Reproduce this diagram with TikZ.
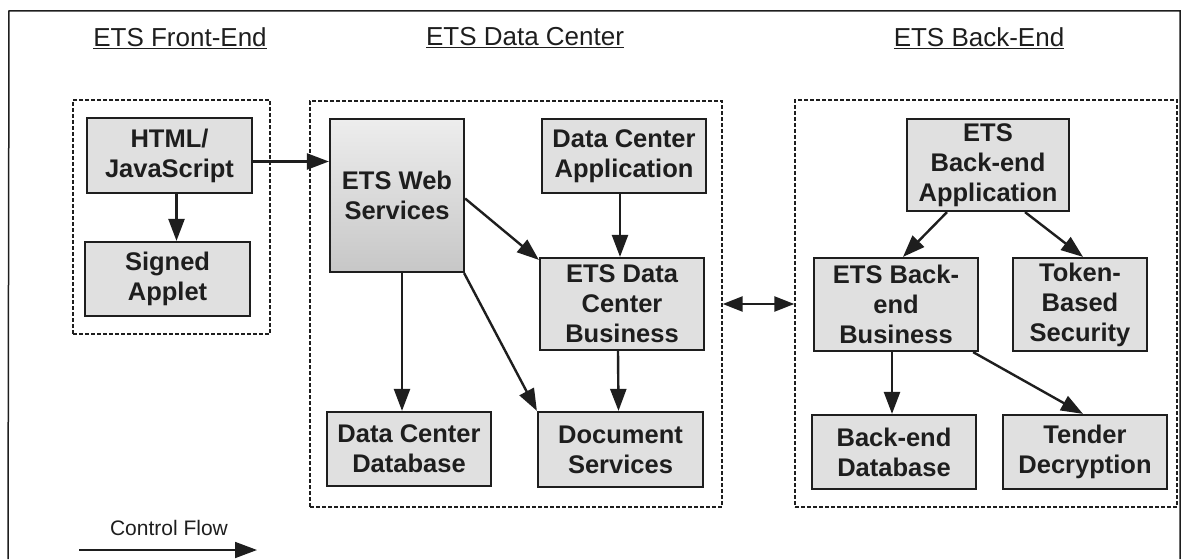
\documentclass[tikz,border=0pt]{standalone}
\usepackage{fontspec}
\setmainfont{Liberation Sans}
\usetikzlibrary{arrows.meta,calc}
\definecolor{ink}{HTML}{1E1E1E}
\tikzset{
  box/.style={draw=ink, line width=2.2pt, fill=black!12, inner sep=0pt, align=center,
    font=\fontsize{25.5}{30}\selectfont\bfseries, text=ink},
  group/.style={draw=ink, line width=1.4pt, dash pattern=on 4pt off 2pt, inner sep=0pt},
  arr/.style={draw=ink, line width=2.4pt, -{Triangle[length=22pt,width=16pt]}},
  biarr/.style={draw=ink, line width=2.4pt, {Triangle[length=20pt,width=15pt]}-{Triangle[length=20pt,width=15pt]}},
  title/.style={font=\fontsize{26}{30}\selectfont, text=ink, inner sep=0pt},
  legend/.style={font=\fontsize{21}{26}\selectfont, text=ink, inner sep=0pt},
  frame/.style={draw=ink, line width=1.5pt},
}
\begin{document}
\begin{tikzpicture}[x=1pt,y=-1pt]
\useasboundingbox (0,0) rectangle (1182,559);
% outer frame
\coordinate (f1) at (8,559);
\coordinate (f2) at (9,11);
\coordinate (f3) at (1180,11);
\coordinate (f4) at (1180,559);
\draw[frame] (f1) -- (f2) -- (f3) -- (f4);
% titles
\node[title] (t1) at (180,38) {\underline{ETS Front-End}};
\node[title] (t2) at (525,38) {\underline{ETS Data Center}};
\node[title] (t3) at (979,38) {\underline{ETS Back-End}};
% groups
\node[group, minimum width=197, minimum height=234] (fe) at (171.5,217) {};
\node[group, minimum width=412, minimum height=406] (dc) at (516,304) {};
\node[group, minimum width=382, minimum height=407] (be) at (986,303.5) {};
% boxes
\node[box, minimum width=165, minimum height=75] (html) at (169.5,155.5) {HTML/\\JavaScript};
\node[box, minimum width=165, minimum height=74] (applet) at (167.5,279) {Signed\\Applet};
\node[box, top color=black!7, bottom color=black!22, minimum width=134, minimum height=153] (web) at (397,195.5) {ETS Web\\Services};
\node[box, minimum width=164, minimum height=74] (dcapp) at (624,156) {Data Center\\Application};
\node[box, minimum width=164, minimum height=92] (dcbus) at (622,304) {ETS Data\\Center\\Business};
\node[box, minimum width=164, minimum height=74] (dcdb) at (409,449) {Data Center\\Database};
\node[box, minimum width=165, minimum height=75] (docs) at (620.5,449.5) {Document\\Services};
\node[box, minimum width=162, minimum height=92] (beapp) at (988,165) {ETS\\Back-end\\Application};
\node[box, minimum width=164, minimum height=93] (bebus) at (896,304.5) {ETS Back-\\end\\Business};
\node[box, minimum width=134, minimum height=93] (token) at (1080,304.5) {Token-\\Based\\Security};
\node[box, minimum width=164, minimum height=74] (bedb) at (894,452) {Back-end\\Database};
\node[box, minimum width=164, minimum height=74] (tender) at (1085,452) {Tender\\Decryption};
% connectors
\coordinate (h1) at ([yshift=-6]html.east);
\draw[arr] (h1) -- (web.west |- h1);
\draw[arr] ([xshift=7]html.south) -- ([xshift=9]applet.north);
\draw[arr] ([yshift=-3]web.east) -- ([yshift=-3]dcbus.north west);
\draw[arr] ([xshift=-4]dcapp.south) -- ([xshift=-2]dcbus.north);
\draw[arr] ([xshift=5]web.south) -- ([xshift=-7]dcdb.north);
\draw[arr] ([xshift=-1]web.south east) -- (docs.north west);
\draw[arr] ([xshift=-4]dcbus.south) -- ([xshift=-2]docs.north);
\draw[biarr] (dc.east |- dcbus.east) -- (be.west |- dcbus.east);
\draw[arr] ([xshift=-41]beapp.south) -- ([xshift=7]bebus.north);
\draw[arr] ([xshift=37]beapp.south) -- ([xshift=3]token.north);
\draw[arr] ([xshift=-4]bebus.south) -- ([xshift=-2]bedb.north);
\draw[arr] ([xshift=-6]bebus.south east) -- ([xshift=-2]tender.north);
% legend
\node[legend] (cf) at (169,528) {Control Flow};
\coordinate (cfa) at (79,550);
\coordinate (cfb) at (257,550);
\draw[arr, line width=1.8pt] (cfa) -- (cfb);
\end{tikzpicture}
\end{document}
